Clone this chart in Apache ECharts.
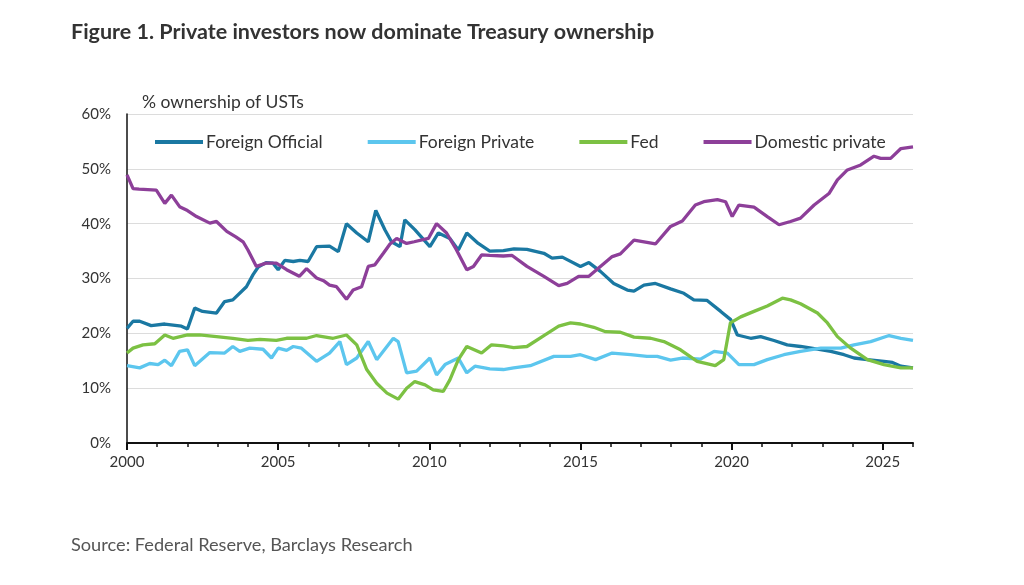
<!DOCTYPE html>
<html>
<head>
    <meta charset="utf-8">
    <title>Treasury ownership</title>
    <style>
        html, body { margin: 0; padding: 0; background: #fff; }
        #main { width: 1024px; height: 585px; }
    </style>
</head>
<body>
<div id="main"></div>
<script src="https://cdn.jsdelivr.net/npm/echarts@6/dist/echarts.min.js"></script>
<script>

    var seriesNames = ['Foreign Official', 'Foreign Private', 'Fed', 'Domestic private'];
    var yTicks = [0, 10, 20, 30, 40, 50, 60];
    var majorYears = [2000, 2005, 2010, 2015, 2020, 2025];
    var minorYears = [2000, 2001, 2002, 2003, 2004, 2005, 2006, 2007, 2008, 2009, 2010, 2011, 2012,
        2013, 2014, 2015, 2016, 2017, 2018, 2019, 2020, 2021, 2022, 2023, 2024, 2025, 2026];

    // [year, % ownership]
    var foreignOfficial = [
        [2000.0, 20.9], [2000.2, 22.2], [2000.42, 22.2], [2000.8, 21.4], [2001.25, 21.7], [2001.8, 21.3],
        [2002.0, 20.8], [2002.24, 24.6], [2002.5, 24.0], [2002.96, 23.7], [2003.23, 25.8], [2003.5, 26.1],
        [2003.95, 28.5], [2004.17, 30.7], [2004.34, 32.1], [2004.6, 32.9], [2004.83, 32.8], [2005.0, 31.6],
        [2005.22, 33.3], [2005.5, 33.1], [2005.72, 33.3], [2005.99, 33.1], [2006.27, 35.8], [2006.7, 35.9],
        [2006.99, 34.9], [2007.26, 40.0], [2007.6, 38.3], [2007.98, 36.7], [2008.23, 42.4], [2008.53, 38.9],
        [2008.75, 36.7], [2009.03, 35.8], [2009.19, 40.7], [2009.52, 38.9], [2010.02, 35.8], [2010.3, 38.3],
        [2010.68, 37.3], [2010.96, 35.2], [2011.24, 38.3], [2011.62, 36.4], [2012.0, 35.0], [2012.45, 35.1],
        [2012.8, 35.4], [2013.23, 35.3], [2013.79, 34.6], [2014.06, 33.7], [2014.4, 33.9], [2015.0, 32.2],
        [2015.28, 32.9], [2015.66, 31.3], [2016.1, 29.1], [2016.55, 27.9], [2016.77, 27.7], [2017.1, 28.8],
        [2017.48, 29.1], [2017.98, 28.1], [2018.42, 27.3], [2018.75, 26.1], [2019.19, 26.0], [2019.64, 24.0],
        [2019.97, 22.5], [2020.19, 19.7], [2020.63, 19.1], [2020.96, 19.4], [2021.4, 18.7], [2021.84, 17.9],
        [2022.28, 17.6], [2022.84, 17.1], [2023.28, 16.7], [2023.72, 16.1], [2024.05, 15.5], [2024.49, 15.2],
        [2025.04, 14.9], [2025.32, 14.7], [2025.6, 14.0], [2026.0, 13.7]
    ];

    var foreignPrivate = [
        [2000.0, 14.1], [2000.42, 13.7], [2000.75, 14.5], [2001.03, 14.3], [2001.25, 15.1], [2001.47, 14.1],
        [2001.74, 16.7], [2002.0, 17.0], [2002.24, 14.1], [2002.74, 16.5], [2003.23, 16.4], [2003.5, 17.6],
        [2003.73, 16.7], [2004.06, 17.3], [2004.5, 17.1], [2004.78, 15.5], [2005.0, 17.3], [2005.28, 16.9],
        [2005.5, 17.6], [2005.77, 17.3], [2006.27, 14.9], [2006.7, 16.4], [2007.04, 18.5], [2007.26, 14.3],
        [2007.6, 15.5], [2007.98, 18.5], [2008.26, 15.2], [2008.81, 19.1], [2008.97, 18.5], [2009.25, 12.8],
        [2009.58, 13.1], [2010.02, 15.5], [2010.24, 12.4], [2010.52, 14.3], [2010.96, 15.5], [2011.24, 12.8],
        [2011.51, 14.0], [2012.0, 13.5], [2012.45, 13.4], [2012.79, 13.7], [2013.34, 14.1], [2014.12, 15.8],
        [2014.67, 15.8], [2015.0, 16.1], [2015.5, 15.2], [2016.05, 16.4], [2016.66, 16.1], [2017.2, 15.8],
        [2017.54, 15.8], [2017.98, 15.1], [2018.37, 15.5], [2018.97, 15.3], [2019.42, 16.7], [2019.86, 16.4],
        [2020.24, 14.3], [2020.74, 14.3], [2021.18, 15.2], [2021.73, 16.1], [2022.28, 16.7], [2022.95, 17.3],
        [2023.61, 17.3], [2024.05, 17.9], [2024.6, 18.5], [2025.21, 19.6], [2025.6, 19.1], [2026.0, 18.7]
    ];

    var fed = [
        [2000.0, 16.4], [2000.2, 17.3], [2000.53, 17.9], [2000.92, 18.1], [2001.25, 19.7], [2001.52, 19.1],
        [2002.0, 19.7], [2002.4, 19.7], [2002.96, 19.4], [2003.5, 19.1], [2004.0, 18.7], [2004.4, 18.9],
        [2004.94, 18.7], [2005.28, 19.1], [2005.94, 19.1], [2006.27, 19.6], [2006.82, 19.1], [2007.26, 19.7],
        [2007.6, 17.9], [2007.93, 13.4], [2008.26, 10.9], [2008.6, 9.1], [2008.97, 8.0], [2009.25, 10.0],
        [2009.52, 11.2], [2009.86, 10.6], [2010.13, 9.7], [2010.46, 9.4], [2010.68, 11.5], [2010.96, 15.2],
        [2011.24, 17.6], [2011.73, 16.4], [2012.06, 17.9], [2012.45, 17.7], [2012.79, 17.4], [2013.23, 17.6],
        [2013.79, 19.6], [2014.28, 21.3], [2014.67, 21.9], [2015.0, 21.7], [2015.44, 21.1], [2015.83, 20.3],
        [2016.32, 20.2], [2016.77, 19.3], [2017.32, 19.1], [2017.76, 18.5], [2018.31, 17.0], [2018.86, 14.9],
        [2019.46, 14.1], [2019.74, 15.2], [2019.96, 21.9], [2020.3, 23.0], [2020.74, 24.0], [2021.18, 25.0],
        [2021.68, 26.4], [2021.95, 26.1], [2022.28, 25.4], [2022.84, 23.7], [2023.17, 21.9], [2023.5, 19.4],
        [2023.94, 17.3], [2024.49, 15.2], [2025.04, 14.3], [2025.6, 13.7], [2026.0, 13.7]
    ];

    var domesticPrivate = [
        [2000.0, 48.9], [2000.2, 46.4], [2000.4, 46.3], [2000.97, 46.1], [2001.25, 43.7], [2001.47, 45.2],
        [2001.74, 43.1], [2002.0, 42.4], [2002.3, 41.3], [2002.74, 40.1], [2002.96, 40.4], [2003.3, 38.6],
        [2003.6, 37.6], [2003.84, 36.7], [2004.0, 35.2], [2004.28, 32.2], [2004.6, 32.8], [2004.94, 32.8],
        [2005.28, 31.6], [2005.7, 30.4], [2005.94, 31.8], [2006.27, 30.1], [2006.5, 29.6], [2006.7, 28.8],
        [2006.93, 28.5], [2007.26, 26.2], [2007.48, 27.9], [2007.76, 28.5], [2007.98, 32.2], [2008.2, 32.5],
        [2008.48, 34.6], [2008.7, 36.3], [2008.92, 37.3], [2009.25, 36.4], [2009.5, 36.7], [2009.97, 37.3],
        [2010.24, 40.0], [2010.57, 38.3], [2010.9, 35.2], [2011.24, 31.6], [2011.46, 32.2], [2011.73, 34.3],
        [2012.0, 34.2], [2012.45, 34.1], [2012.74, 34.2], [2013.23, 32.2], [2013.79, 30.4], [2014.28, 28.7],
        [2014.56, 29.1], [2014.94, 30.4], [2015.28, 30.4], [2015.66, 32.2], [2016.05, 34.0], [2016.32, 34.5],
        [2016.77, 37.0], [2017.2, 36.6], [2017.48, 36.3], [2017.98, 39.5], [2018.37, 40.5], [2018.8, 43.4],
        [2019.08, 44.0], [2019.53, 44.4], [2019.8, 44.0], [2020.02, 41.3], [2020.24, 43.4], [2020.74, 43.0],
        [2021.18, 41.3], [2021.57, 39.8], [2021.95, 40.4], [2022.28, 41.0], [2022.73, 43.4], [2023.22, 45.5],
        [2023.5, 48.0], [2023.83, 49.8], [2024.27, 50.7], [2024.71, 52.3], [2024.93, 51.9], [2025.26, 51.9],
        [2025.6, 53.7], [2026.0, 54.0]
    ];

    var seriesData = [foreignOfficial, foreignPrivate, fed, domesticPrivate];
    var colors = ['#1a78a2', '#5cc6ee', '#7cc143', '#8d3f99'];

    var myChart = echarts.init(document.getElementById('main'));

    var baseFont = 'Lato, "Open Sans", sans-serif';

    var option = {
        backgroundColor: '#ffffff',
        animation: false,
        color: colors,
        textStyle: { fontFamily: baseFont },
        title: [
            {
                text: 'Figure 1. Private investors now dominate Treasury ownership',
                left: 66, top: 16,
                textStyle: { fontSize: 21.5, fontWeight: 'bold', color: '#333', fontFamily: baseFont }
            },
            {
                text: '% ownership of USTs',
                left: 137, top: 88,
                textStyle: { fontSize: 17.5, fontWeight: 'normal', color: '#333', fontFamily: baseFont }
            },
            {
                text: 'Source: Federal Reserve, Barclays Research',
                left: 66, top: 531,
                textStyle: { fontSize: 18.2, fontWeight: 'normal', color: '#555', fontFamily: baseFont }
            }
        ],
        legend: {
            data: seriesNames,
            left: 150, top: 128,
            icon: 'rect',
            itemWidth: 48, itemHeight: 4,
            itemGap: 45,
            textStyle: { fontSize: 17.5, color: '#333', fontFamily: baseFont, padding: [0, 0, 0, -2] }
        },
        grid: { left: 127, right: 111, top: 114, bottom: 142 },
        xAxis: [
            {
                type: 'value', min: 2000, max: 2026,
                axisLine: { show: true, lineStyle: { color: '#111', width: 2 } },
                axisTick: { show: true, length: 7, inside: false, customValues: majorYears,
                    lineStyle: { color: '#111', width: 2 } },
                axisLabel: { customValues: majorYears, margin: 12, fontSize: 15, color: '#333',
                    formatter: function (v) { return String(v); } },
                splitLine: { show: false }
            },
            {
                type: 'value', min: 2000, max: 2026, position: 'bottom',
                axisLine: { show: false },
                axisTick: { show: true, length: 4, customValues: minorYears,
                    lineStyle: { color: '#111', width: 1.5 } },
                axisLabel: { show: false },
                splitLine: { show: false }
            }
        ],
        yAxis: {
            type: 'value', min: 0, max: 60, interval: 10,
            axisLine: { show: true, lineStyle: { color: '#111', width: 1.5 } },
            axisTick: { show: false },
            axisLabel: { customValues: yTicks, margin: 16, fontSize: 15, color: '#333',
                formatter: function (v) { return v + '%'; } },
            splitLine: { show: true, lineStyle: { color: '#dcdcdc', width: 1 } }
        },
        series: seriesNames.map(function (name, i) {
            return {
                name: name,
                type: 'line',
                data: seriesData[i],
                showSymbol: false,
                symbol: 'none',
                lineStyle: { width: 3.3, color: colors[i] },
                z: i === 3 ? 4 : 3
            };
        })
    };

    myChart.setOption(option);

</script>
</body>
</html>
